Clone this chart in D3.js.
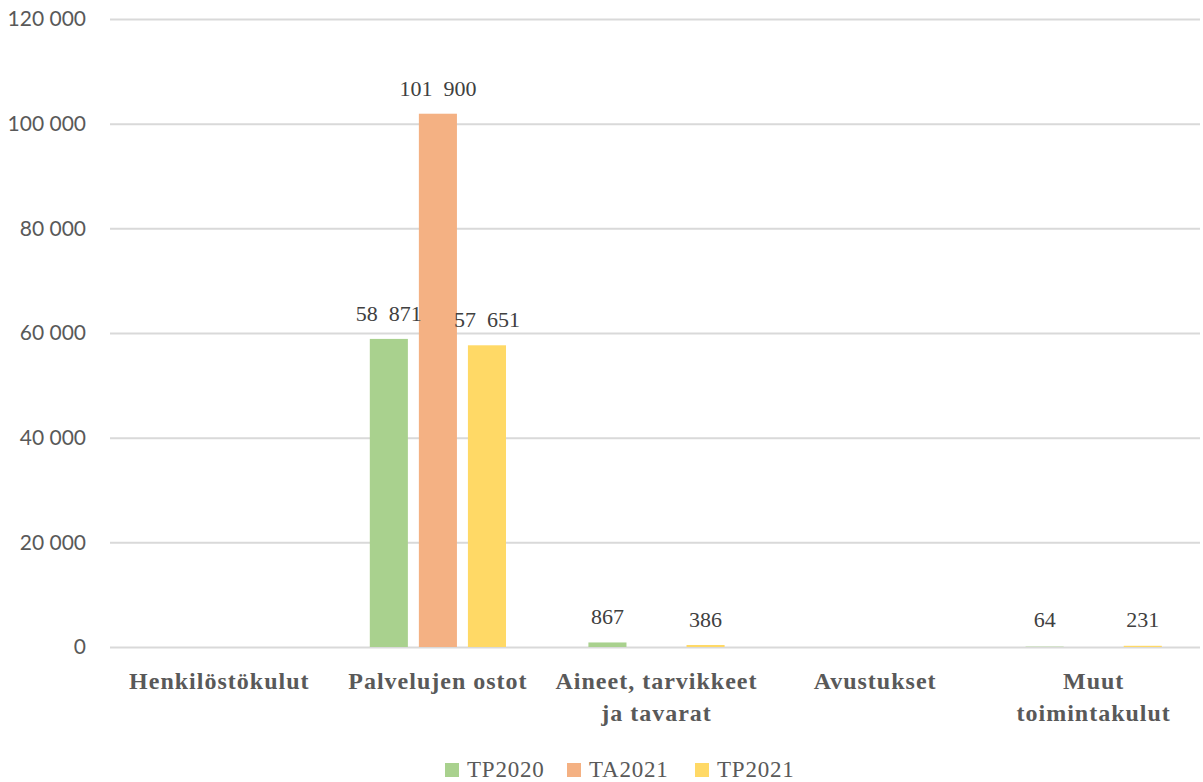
<!DOCTYPE html>
<html><head><meta charset="utf-8">
<script src="https://cdn.jsdelivr.net/npm/d3@7"></script>
<style>body{margin:0;background:#fff}svg{display:block}</style>
</head><body>
<svg id="chart" width="1203" height="782"></svg>
<script>
const categories = ["Henkilöstökulut","Palvelujen ostot","Aineet, tarvikkeet ja tavarat","Avustukset","Muut toimintakulut"];
const categoryLines = [["Henkilöstökulut"],["Palvelujen ostot"],["Aineet, tarvikkeet","ja tavarat"],["Avustukset"],["Muut","toimintakulut"]];
const seriesNames = ["TP2020","TA2021","TP2021"];
const TP2020 = [null, 58871, 867, null, 64];
const TA2021 = [null, 101900, null, null, null];
const TP2021 = [null, 57651, 386, null, 231];
const yTicks = [0,20000,40000,60000,80000,100000,120000];
const colors = ["#A9D18E","#F4B183","#FFD966"];

const series = [TP2020, TA2021, TP2021];
const locale = d3.formatLocale({decimal:",", thousands:"\u00a0", grouping:[3], currency:["","€"]});
const fmt = locale.format(",d");
const labelFmt = v => fmt(v).replace(/\u00a0/g, "\u2007");

const serif = "'Liberation Serif', 'DejaVu Serif', serif";
const svg = d3.select("#chart");
const W = 1203;
const x0 = d3.scaleBand().domain(categories).range([110, W]).paddingInner(0).paddingOuter(0);
const x1 = d3.scaleBand().domain(seriesNames).range([0, x0.bandwidth()]).paddingInner(0.224).paddingOuter(0.84);
const y = d3.scaleLinear().domain([0,120000]).range([647, 19]);

// gridlines + y axis
const yAxis = d3.axisLeft(y).tickValues(yTicks).tickSize(-(W - 110 - 3)).tickFormat(fmt);
const ga = svg.append("g").attr("transform", "translate(110,0)").call(yAxis);
ga.select(".domain").remove();
ga.selectAll(".tick line").attr("stroke","#d9d9d9").attr("stroke-width",2);
ga.selectAll(".tick text").attr("x",-24).attr("fill","#595959")
  .style("font-family","Lato, 'Open Sans', sans-serif").style("font-size","21px");

// flatten data
const items = [];
categories.forEach((c, ci) => seriesNames.forEach((s, si) => {
  const v = series[si][ci];
  if (v != null) items.push({c, s, si, v});
}));

svg.append("g").selectAll("rect").data(items).join("rect")
  .attr("x", d => x0(d.c) + x1(d.s)).attr("width", x1.bandwidth())
  .attr("y", d => y(d.v)).attr("height", d => y(0) - y(d.v))
  .attr("fill", d => colors[d.si]);

svg.append("g").selectAll("text").data(items).join("text")
  .attr("x", d => x0(d.c) + x1(d.s) + x1.bandwidth()/2)
  .attr("y", d => Math.min(y(d.v), y(0) - 2) - 18)
  .attr("text-anchor","middle").attr("fill","#404040")
  .style("font-family", serif).style("font-size","22px")
  .text(d => labelFmt(d.v));

// category labels
const xa = svg.append("g");
categories.forEach((c, i) => {
  const cx = x0(c) + x0.bandwidth()/2;
  const t = xa.append("text").attr("x", cx).attr("y", 689)
    .attr("text-anchor","middle").attr("fill","#595959")
    .style("font-family", serif).style("font-size","24px").style("font-weight","bold")
    .style("letter-spacing","1px");
  categoryLines[i].forEach((l, li) => t.append("tspan").attr("x", cx).attr("dy", li === 0 ? 0 : 32).text(l));
});

// legend
const legendX = [445, 567, 695];
const lg = svg.append("g");
seriesNames.forEach((s, si) => {
  lg.append("rect").attr("x", legendX[si]).attr("y", 763).attr("width", 14).attr("height", 14).attr("fill", colors[si]);
  lg.append("text").attr("x", legendX[si] + 22).attr("y", 777).attr("fill","#595959")
    .style("font-family", serif).style("font-size","23px").style("letter-spacing","0.8px").text(s);
});
</script>
</body></html>
